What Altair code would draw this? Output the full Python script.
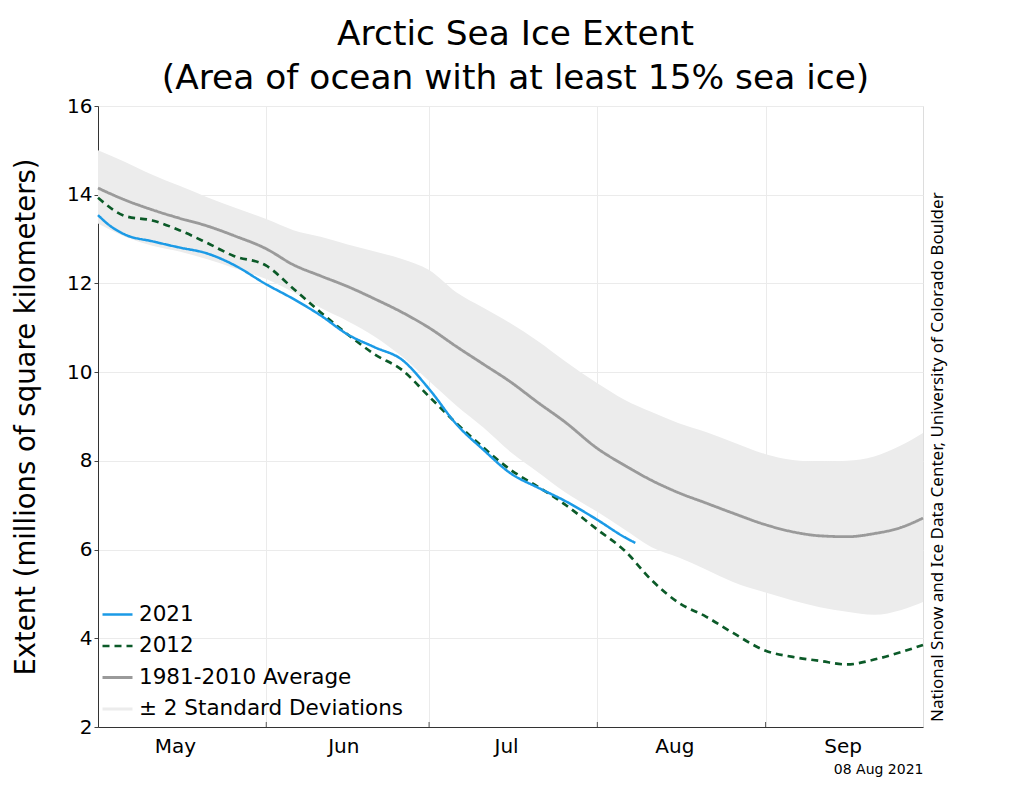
import altair as alt
import pandas as pd

# ---------------- data ----------------
dates = ["2021-05-01", "2021-05-06", "2021-05-11", "2021-05-16", "2021-05-21", "2021-05-26",
         "2021-06-01", "2021-06-06", "2021-06-11", "2021-06-16", "2021-06-21", "2021-06-26",
         "2021-07-01", "2021-07-06", "2021-07-11", "2021-07-16", "2021-07-21", "2021-07-26",
         "2021-08-01", "2021-08-06", "2021-08-11", "2021-08-16", "2021-08-21", "2021-08-26",
         "2021-09-01", "2021-09-06", "2021-09-11", "2021-09-16", "2021-09-21", "2021-09-26",
         "2021-09-30"]

avg_1981_2010 = [14.15, 13.88, 13.66, 13.47, 13.30, 13.08, 12.78, 12.42, 12.17, 11.93, 11.65, 11.35,
                 11.00, 10.58, 10.18, 9.78, 9.32, 8.88, 8.28, 7.90, 7.56, 7.28, 7.05, 6.82,
                 6.56, 6.40, 6.31, 6.29, 6.36, 6.50, 6.71]
upper_2sd = [15.00, 14.74, 14.45, 14.20, 13.95, 13.72, 13.45, 13.20, 13.05, 12.88, 12.72, 12.55,
             12.30, 11.80, 11.45, 11.10, 10.70, 10.25, 9.75, 9.38, 9.10, 8.85, 8.65, 8.42,
             8.15, 8.02, 7.98, 8.00, 8.10, 8.35, 8.63]
lower_2sd = [13.35, 13.05, 12.85, 12.72, 12.55, 12.35, 12.10, 11.80, 11.45, 11.15, 10.80, 10.35,
             9.80, 9.25, 8.75, 8.20, 7.75, 7.30, 6.85, 6.45, 6.05, 5.82, 5.55, 5.27,
             5.03, 4.85, 4.70, 4.60, 4.53, 4.64, 4.82]
ext_2012 = [13.93, 13.52, 13.42, 13.20, 12.92, 12.62, 12.40, 11.88, 11.35, 10.85, 10.40, 10.05,
            9.45, 8.85, 8.30, 7.80, 7.42, 7.02, 6.45, 5.98, 5.31, 4.80, 4.49, 4.12,
            3.72, 3.58, 3.49, 3.41, 3.52, 3.69, 3.85]

dates_2021 = ["2021-05-01", "2021-05-03", "2021-05-06", "2021-05-11", "2021-05-16", "2021-05-21",
              "2021-05-26", "2021-06-01", "2021-06-06", "2021-06-11", "2021-06-16", "2021-06-21",
              "2021-06-26", "2021-07-01", "2021-07-06", "2021-07-11", "2021-07-16", "2021-07-21",
              "2021-07-26", "2021-08-01", "2021-08-06", "2021-08-08"]
ext_2021 = [13.54, 13.32, 13.10, 12.95, 12.81, 12.68, 12.42, 11.98, 11.65, 11.28, 10.85, 10.56,
            10.28, 9.62, 8.83, 8.25, 7.72, 7.40, 7.10, 6.67, 6.28, 6.15]

series_names = ["2021", "2012", "1981-2010 Average", "\u00b1 2 Standard Deviations"]
series_colors = ["#1b9ae6", "#0b5a28", "#9a9a9a", "#ececec"]
series_dash = [[1, 0], [7, 5], [1, 0], [1, 0]]
series_width = [2.5, 3, 2.5, 9]

month_starts = ["2021-05-01", "2021-06-01", "2021-07-01", "2021-08-01", "2021-09-01"]
month_names = ["May", "Jun", "Jul", "Aug", "Sep"]

title_lines = ["Arctic Sea Ice Extent", "(Area of ocean with at least 15% sea ice)"]
y_title = "Extent (millions of square kilometers)"
credit = "National Snow and Ice Data Center, University of Colorado Boulder"
date_stamp = "08 Aug 2021"

# ---------------- tables ----------------
def doy(ds):
    return list(pd.to_datetime(ds).dayofyear)

band_df = pd.DataFrame({"doy": doy(dates), "lo": lower_2sd, "hi": upper_2sd})
lines_df = pd.concat([
    pd.DataFrame({"doy": doy(dates), "v": avg_1981_2010, "series": series_names[2], "order": 0}),
    pd.DataFrame({"doy": doy(dates), "v": ext_2012, "series": series_names[1], "order": 1}),
    pd.DataFrame({"doy": doy(dates_2021), "v": ext_2021, "series": series_names[0], "order": 2}),
], ignore_index=True)
month_doy = doy(month_starts)
tick_df = pd.DataFrame({"doy": month_doy[1:]})
credit_df = pd.DataFrame({"t": [credit]})

label_map = "{" + ",".join(f"'{d}':'{n}'" for d, n in zip(month_doy, month_names)) + "}"

W, H = 825, 621
FONT = "DejaVu Sans"

x_scale = alt.Scale(domain=[month_doy[0], 273], nice=False, zero=False)
y_scale = alt.Scale(domain=[2, 16], nice=False, zero=False)

x_axis = alt.Axis(values=month_doy, labelExpr=f"{label_map}[datum.value]", labelOffset=77,
                  labelFlush=False, labelOverlap=False, ticks=False, labelPadding=9,
                  labelFontSize=20, labelFont=FONT, labelColor="black",
                  title=date_stamp, titleAnchor="end", titleFontSize=14, titleFont=FONT,
                  titleFontWeight="normal", titleColor="black", titlePadding=6,
                  grid=True, gridColor="#ebebeb", domainColor="#333333")
y_axis = alt.Axis(values=list(range(2, 17, 2)), tickSize=4, tickColor="#444444",
                  labelFontSize=20, labelFont=FONT, labelColor="black", labelPadding=2,
                  title=y_title, titleFontSize=27.5, titleFont=FONT, titleFontWeight="normal",
                  titleColor="black", titlePadding=26,
                  grid=True, gridColor="#ebebeb", domainColor="#333333")

legend = alt.Legend(title=None, orient="none", legendX=3, legendY=492,
                    symbolType="stroke", symbolSize=900, labelLimit=400,
                    labelFontSize=21.5, labelFont=FONT, labelColor="black",
                    labelOffset=5, rowPadding=4.5)

band = alt.Chart(band_df).mark_area(color=series_colors[3], interpolate="monotone").encode(
    x=alt.X("doy:Q", scale=x_scale, axis=x_axis),
    y=alt.Y("lo:Q", scale=y_scale, axis=y_axis),
    y2="hi:Q",
)

lines = alt.Chart(lines_df).mark_line(interpolate="monotone").encode(
    x=alt.X("doy:Q", scale=x_scale),
    y=alt.Y("v:Q", scale=y_scale),
    color=alt.Color("series:N", scale=alt.Scale(domain=series_names, range=series_colors),
                    legend=legend),
    strokeDash=alt.StrokeDash("series:N", scale=alt.Scale(domain=series_names, range=series_dash),
                              legend=legend),
    strokeWidth=alt.StrokeWidth("series:N", scale=alt.Scale(domain=series_names, range=series_width),
                                legend=legend),
    order="order:Q",
    detail="series:N",
)

ticks = alt.Chart(tick_df).mark_rule(color="#555555", strokeWidth=1).encode(
    x=alt.X("doy:Q", scale=x_scale),
    y=alt.value(H),
    y2=alt.value(H - 5),
)

credit_txt = alt.Chart(credit_df).mark_text(angle=270, align="left", baseline="middle",
                                            font="Noto Sans", fontSize=17, color="black").encode(
    text="t:N", x=alt.value(W + 15), y=alt.value(H - 5))

chart = alt.layer(band, lines, ticks, credit_txt).properties(
    width=W, height=H,
    title=alt.TitleParams(text=title_lines, fontSize=34.4, font=FONT, fontWeight="normal",
                          color="black", anchor="middle", lineHeight=44, offset=0, dx=5),
    autosize=alt.AutoSizeParams(type="none"),
    padding={"left": 90, "top": 98, "right": 80, "bottom": 65},
).configure_view(stroke=None).configure(background="white")

chart.save("out.html", embed_options={"renderer": "svg", "actions": False})
